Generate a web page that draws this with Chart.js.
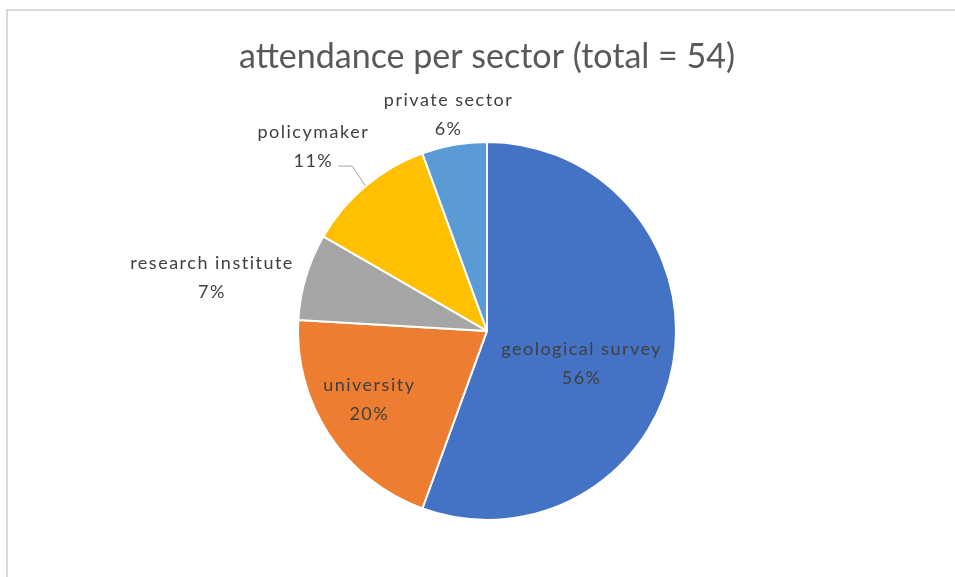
<!DOCTYPE html>
<html>
<head>
<meta charset="utf-8">
<title>attendance per sector</title>
<script src="https://cdn.jsdelivr.net/npm/chart.js@4/dist/chart.umd.min.js"></script>
<style>
  html, body { margin: 0; padding: 0; background: #ffffff; }
  #wrap { width: 955px; height: 577px; position: relative; }
</style>
</head>
<body>
<div id="wrap"><canvas id="sectorChart" width="955" height="577"></canvas></div>
<script>
// attendance counts per sector, total 54
const sectors = ['geological survey', 'university', 'research institute', 'policymaker', 'private sector'];
const attendees = [30, 11, 4, 6, 3];
const sliceColors = ['#4472C4', '#ED7D31', '#A5A5A5', '#FFC000', '#5B9BD5'];

const total = attendees.reduce((a, b) => a + b, 0);

// where each data label sits: radial factor along the slice's mid angle, plus a nudge
const labelPlacement = [
  { f: 0.53, dx: -4, dy: 16 },
  { f: 0.72, dx: -4, dy: -5 },
  { f: 1.48, dx: -7, dy: 28 },
  { f: 1.38, dx: -6, dy: 16, leader: true },
  { f: 1.17, dx: 0, dy: 2 }
];

const labelFont = '18px Lato';
const labelColor = '#404040';

// light frame around the chart
const framePlugin = {
  id: 'frame',
  beforeDraw(chart) {
    const ctx = chart.ctx;
    ctx.save();
    ctx.strokeStyle = '#d9d9d9';
    ctx.lineWidth = 2;
    ctx.strokeRect(7, 10, 1200, 1200);
    ctx.restore();
  }
};

// category name + percentage for each slice
const sliceLabels = {
  id: 'sliceLabels',
  afterDatasetsDraw(chart) {
    const ctx = chart.ctx;
    const arcs = chart.getDatasetMeta(0).data;
    ctx.save();
    ctx.font = labelFont;
    ctx.letterSpacing = '1.5px';
    ctx.fillStyle = labelColor;
    ctx.textAlign = 'center';
    ctx.textBaseline = 'middle';
    arcs.forEach((arc, i) => {
      const p = arc.getProps(['x', 'y', 'startAngle', 'endAngle', 'outerRadius'], true);
      const mid = (p.startAngle + p.endAngle) / 2;
      const pl = labelPlacement[i];
      const lx = p.x + Math.cos(mid) * p.outerRadius * pl.f + pl.dx;
      const ly = p.y + Math.sin(mid) * p.outerRadius * pl.f + pl.dy;
      const pct = Math.round(attendees[i] / total * 100) + '%';
      ctx.fillText(sectors[i], lx, ly - 15);
      ctx.fillText(pct, lx, ly + 14);
      if (pl.leader) {
        const w = ctx.measureText(pct).width;
        const sx = lx + w / 2 + 5;
        const sy = ly + 19;
        const ex = p.x + Math.cos(mid) * p.outerRadius;
        const ey = p.y + Math.sin(mid) * p.outerRadius;
        ctx.strokeStyle = '#a6a6a6';
        ctx.lineWidth = 1;
        ctx.beginPath();
        ctx.moveTo(sx, sy);
        ctx.lineTo(sx + 14, sy);
        ctx.lineTo(ex, ey);
        ctx.stroke();
      }
    });
    ctx.restore();
  }
};

new Chart(document.getElementById('sectorChart'), {
  type: 'pie',
  data: {
    labels: sectors,
    datasets: [{
      data: attendees,
      backgroundColor: sliceColors,
      borderColor: '#ffffff',
      borderWidth: 2
    }]
  },
  options: {
    responsive: false,
    animation: false,
    radius: 189,
    layout: { padding: { left: 19, right: 0, top: 0, bottom: 9 } },
    plugins: {
      legend: { display: false },
      tooltip: { enabled: false },
      title: {
        display: true,
        text: 'attendance per sector (total = 54)',
        color: '#595959',
        font: { family: 'Lato', size: 34, weight: 'normal' },
        padding: { top: 37, bottom: 16 }
      }
    }
  },
  plugins: [framePlugin, sliceLabels]
});
</script>
</body>
</html>
